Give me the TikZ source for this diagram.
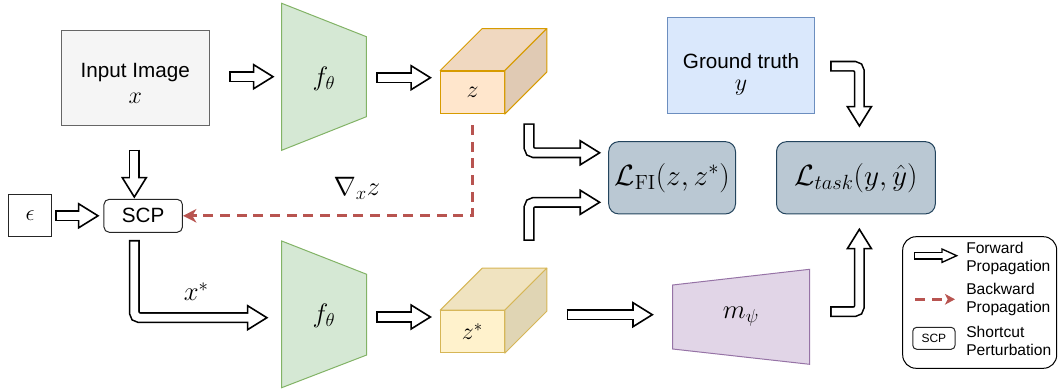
\RequirePackage{fix-cm}
\documentclass[tikz,border=0pt]{standalone}
\usepackage[no-math]{fontspec}
\setmainfont{Liberation Sans}
\usetikzlibrary{calc,arrows.meta}
\definecolor{grayfill}{HTML}{F5F5F5}
\definecolor{graydraw}{HTML}{666666}
\definecolor{greenfill}{HTML}{D5E8D4}
\definecolor{greendraw}{HTML}{82B366}
\definecolor{orangefill}{HTML}{FFE6CC}
\definecolor{orangedraw}{HTML}{D79B00}
\definecolor{yellowfill}{HTML}{FFF2CC}
\definecolor{yellowdraw}{HTML}{D6B656}
\definecolor{bluefill}{HTML}{DAE8FC}
\definecolor{bluedraw}{HTML}{6C8EBF}
\definecolor{lossfill}{HTML}{BAC8D3}
\definecolor{lossdraw}{HTML}{23445D}
\definecolor{purplefill}{HTML}{E1D5E7}
\definecolor{purpledraw}{HTML}{9673A6}
\definecolor{backred}{HTML}{B85450}
\colorlet{ztop}{orangefill!94!black}
\colorlet{zside}{orangefill!88!black}
\colorlet{zstop}{yellowfill!94!black}
\colorlet{zsside}{yellowfill!88!black}

\newcommand\mainsize{\fontsize{15.5pt}{17.7pt}\selectfont}
\newcommand\varsize{\fontsize{18pt}{20pt}\selectfont}
\newcommand\mathsize{\fontsize{20pt}{23pt}\selectfont}
\newcommand\losssize{\fontsize{22pt}{26pt}\selectfont}
\newcommand\legsize{\fontsize{11.7pt}{13.8pt}\selectfont}

% block arrow parameters
\newcommand\baOuter{8.3pt}
\newcommand\baInner{5.9pt}
\newcommand\baHW{9pt}
\newcommand\baHL{14.5pt}
\newcommand\baHLi{13.3pt}
\newcommand\baLW{1.2pt}

\newcommand\blockarrow[3]{%
  \path ($(#3)!\baHL!(#2)$) coordinate (ba-b);
  \draw[line width=\baOuter, rounded corners=3.75pt, shorten >=\baHL] #1;
  \draw[line width=\baLW, fill=white, line join=miter] ($(ba-b)!\baHW!90:(#3)$) -- (#3) -- ($(ba-b)!\baHW!-90:(#3)$) -- cycle;
  \draw[white, line width=\baInner, rounded corners=3.75pt, shorten <=\baLW, shorten >=\baHLi] #1;
}

\begin{document}
\begin{tikzpicture}[x=0.75pt,y=-0.75pt,
  box/.style={draw, line width=0.75pt, inner sep=0pt},
  enc/.style={fill=greenfill, draw=greendraw, line width=0.75pt},
  head/.style={fill=purplefill, draw=purpledraw, line width=0.75pt},
  lossbox/.style={box, fill=lossfill, draw=lossdraw, rounded corners=7.5pt, minimum height=54.2pt, font=\losssize},
  back/.style={draw=backred, line width=2pt, dash pattern=on 7.5pt off 5pt, -{Stealth[length=10pt,width=10pt,inset=3pt]}},
  backsmall/.style={draw=backred, line width=2pt, dash pattern=on 7.5pt off 5.5pt, -{Stealth[length=7.5pt,width=8pt,inset=2pt]}},
  legtext/.style={anchor=west, inner sep=0pt, align=left, font=\legsize},
]
\useasboundingbox (0,0) rectangle (1058,392);

% input image
\node[box, fill=grayfill, draw=graydraw, minimum width=111.1pt, minimum height=71.5pt,
  label={[yshift=-3.9pt,align=center,font=\fontsize{15.5pt}{19.5pt}\selectfont]center:Input Image\\{\varsize$x$}}] (in) at (135.3,78.3) {};

% encoders
\draw[enc] (281.7,3.3) -- (366.4,36.7) -- (366.4,116.7) -- (281.7,150.3) -- cycle;
\node[font=\mathsize] (f1) at (324,78.5) {$f_\theta$};
\draw[enc] (281.7,241) -- (366.7,274.3) -- (366.7,355) -- (281.7,387.7) -- cycle;
\node[font=\mathsize] (f2) at (324,316) {$f_\theta$};

% cube z
\node[box, fill=orangefill, draw=orangedraw, minimum width=47.7pt, minimum height=31.9pt, font=\varsize] (z) at (472.5,92.35) {$z$};
\draw[fill=ztop, draw=orangedraw, line width=0.75pt, line join=round] (z.north west) -- ++(42,-42) -- ($(z.north east)+(42,-42)$) -- (z.north east) -- cycle;
\draw[fill=zside, draw=orangedraw, line width=0.75pt, line join=round] (z.north east) -- ++(42,-42) -- ($(z.south east)+(42,-42)$) -- (z.south east) -- cycle;

% cube z*
\node[box, fill=yellowfill, draw=yellowdraw, minimum width=47.7pt, minimum height=31.5pt, font=\varsize] (zs) at (472.5,331.7) {$z^*$};
\draw[fill=zstop, draw=yellowdraw, line width=0.75pt, line join=round] (zs.north west) -- ++(42,-42) -- ($(zs.north east)+(42,-42)$) -- (zs.north east) -- cycle;
\draw[fill=zsside, draw=yellowdraw, line width=0.75pt, line join=round] (zs.north east) -- ++(42,-42) -- ($(zs.south east)+(42,-42)$) -- (zs.south east) -- cycle;

% ground truth
\node[box, fill=bluefill, draw=bluedraw, minimum width=110pt, minimum height=71.7pt,
  label={[yshift=-6.4pt,align=center,font=\fontsize{15.5pt}{16.5pt}\selectfont]center:Ground truth\\{\varsize$y$}}] (gt) at (741,65.5) {};

% losses
\node[lossbox, minimum width=95.1pt] (lfi) at (672.1,177.8) {$\mathcal{L}_{\mathrm{FI}}(z,z^*)$};
\node[lossbox, minimum width=119.1pt] (lt) at (855.9,177.8) {$\mathcal{L}_{task}(y,\hat{y})$};

% m_psi
\draw[head] (672.6,285) -- (809.6,269.3) -- (809.6,364.3) -- (672.6,349) -- cycle;
\node[font=\mathsize] (m) at (741,317) {$m_\psi$};

% epsilon and SCP
\node[box, draw=black!85, minimum width=32.3pt, minimum height=31.3pt, font=\fontsize{17pt}{19pt}\selectfont] (eps) at (30.2,215.8) {$\epsilon$};
\node[box, draw=black!85, rounded corners=4pt, minimum width=58.9pt, minimum height=24.75pt, font=\mainsize] (scp) at (143.2,215.8) {SCP};

% labels
\node[font=\mathsize] (grad) at (357,188) {$\nabla_x z$};
\node[font=\mathsize] (xs) at (196.3,291.7) {$x^*$};

% arrow coordinates
\coordinate (a1s) at (229,76.7);   \coordinate (a1e) at (273,76.7);
\coordinate (a2s) at (376.4,77.7); \coordinate (a2e) at (430.4,77.7);
\coordinate (a3s) at (134.3,149.7);\coordinate (a3e) at (134.3,197);
\coordinate (a4s) at (55,215.8);   \coordinate (a4e) at (98,215.8);
\coordinate (a5s) at (134.3,240);  \coordinate (a5c) at (134.3,317.7); \coordinate (a5e) at (266.9,317.7);
\coordinate (a6s) at (376.4,317);  \coordinate (a6e) at (430.4,317);
\coordinate (a7s) at (529,123.3);  \coordinate (a7c) at (529,152.8);   \coordinate (a7e) at (599.6,152.8);
\coordinate (a8s) at (529,241);    \coordinate (a8c) at (529,202.3);   \coordinate (a8e) at (599.6,202.3);
\coordinate (a9s) at (566.5,314.7);\coordinate (a9e) at (652.3,314.7);
\coordinate (a10s) at (830.2,66.2);\coordinate (a10c) at (859.4,66.2); \coordinate (a10e) at (859.4,126);
\coordinate (a11s) at (830.2,311.7);\coordinate (a11c) at (859.4,311.7);\coordinate (a11e) at (859.4,229.3);

\blockarrow{(a1s) -- (a1e)}{a1s}{a1e}
\blockarrow{(a2s) -- (a2e)}{a2s}{a2e}
\blockarrow{(a3s) -- (a3e)}{a3s}{a3e}
\blockarrow{(a4s) -- (a4e)}{a4s}{a4e}
\blockarrow{(a5s) -- (a5c) -- (a5e)}{a5c}{a5e}
\blockarrow{(a6s) -- (a6e)}{a6s}{a6e}
\blockarrow{(a7s) -- (a7c) -- (a7e)}{a7c}{a7e}
\blockarrow{(a8s) -- (a8c) -- (a8e)}{a8c}{a8e}
\blockarrow{(a9s) -- (a9e)}{a9s}{a9e}
\blockarrow{(a10s) -- (a10c) -- (a10e)}{a10c}{a10e}
\blockarrow{(a11s) -- (a11c) -- (a11e)}{a11c}{a11e}

% backward propagation
\coordinate (zd) at ($(z.south)+(0,11)$);
\draw[back] (zd) |- (scp.east);

% legend
\node[draw, line width=0.75pt, rounded corners=10pt, minimum width=115.5pt, minimum height=98.7pt] (leg) at (979.7,302.5) {};
\begin{scope}
\renewcommand\baOuter{6pt}
\renewcommand\baInner{4pt}
\renewcommand\baHW{5pt}
\renewcommand\baHL{11pt}
\renewcommand\baHLi{10pt}
\renewcommand\baLW{1pt}
\coordinate (lfs) at (914,255.7); \coordinate (lfe) at (956.7,255.7);
\blockarrow{(lfs) -- (lfe)}{lfs}{lfe}
\end{scope}
\coordinate (lbs) at (915,299.3); \coordinate (lbe) at (955,299.3);
\draw[backsmall] (lbs) -- (lbe);
\node[box, draw=black!85, rounded corners=3pt, minimum width=31.7pt, minimum height=16.5pt, font=\fontsize{9pt}{11pt}\selectfont] (lscp) at (933.9,338.3) {SCP};
\node[legtext] (lt1) at (966,258.5) {Forward\\Propagation};
\node[legtext] (lt2) at (966,299.5) {Backward\\Propagation};
\node[legtext] (lt3) at (966,341.2) {Shortcut\\Perturbation};
\end{tikzpicture}
\end{document}
